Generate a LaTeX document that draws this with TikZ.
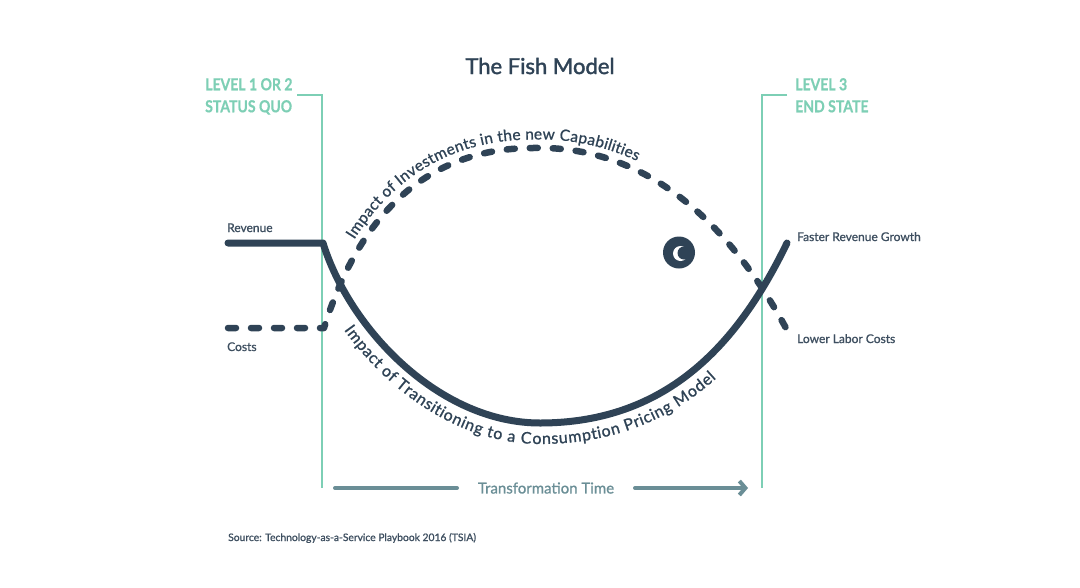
\documentclass[tikz,border=0pt]{standalone}
\usepackage{fontspec}
\setmainfont{Lato}
\newfontfamily\levelfont[FakeStretch=0.85,FakeBold=0.6]{Lato}
\newfontfamily\medfont[FakeBold=1.0]{Lato}
\newfontfamily\semifont[FakeBold=1.8]{Lato}
\usetikzlibrary{decorations.text,arrows.meta}
\definecolor{navy}{HTML}{2F4356}
\definecolor{mint}{HTML}{7DCFB5}
\definecolor{slate}{HTML}{6A8E96}
\definecolor{labelc}{HTML}{3E4F60}
\begin{document}
\begin{tikzpicture}[x=1pt,y=-1pt,
  guide/.style={mint, line width=2.5pt},
  revline/.style={navy, line width=7pt, line join=round, line cap=round},
  costline/.style={navy, line width=6.5pt, line cap=round, line join=round, dash pattern=on 8pt off 15pt},
  lbl/.style={font=\medfont\fontsize{12}{14}\selectfont, text=labelc, inner sep=0pt, anchor=base west},
  level/.style={font=\levelfont\bfseries\fontsize{16.5}{22}\selectfont, text=mint, align=left, inner sep=0pt, anchor=north west},
  timeline/.style={slate, line width=4pt, line cap=round},
]
\useasboundingbox[fill=white] (0,0) rectangle (1080,587);

% title
\node[font=\semifont\fontsize{22}{24}\selectfont, text=navy, inner sep=0pt] (title) at (540,66) {The Fish Model};

% level guides
\coordinate (lgTop) at (322,95);
\coordinate (lgTick) at (297,95);
\coordinate (lgBot) at (322,488);
\coordinate (rgTop) at (762,95);
\coordinate (rgTick) at (787,95);
\coordinate (rgBot) at (762,488);
\draw[guide] (lgTick) -- (lgTop) -- (lgBot);
\draw[guide] (rgTick) -- (rgTop) -- (rgBot);
\node[level] (lv12) at (205,78) {LEVEL 1 OR 2\\STATUS QUO};
\node[level] (lv3) at (795,78) {LEVEL 3\\END STATE};

% costs (dashed)
\coordinate (cStart) at (228,328);
\coordinate (cCorner) at (324,328);
\coordinate (cTop) at (533,148);
\coordinate (cEnd) at (787,330);
\draw[costline] (cStart) -- (cCorner) .. controls (370,180) and (460,148) .. (cTop)
   .. controls (640,145) and (725,215) .. (cEnd);

% revenue (solid)
\coordinate (rStart) at (228,243);
\coordinate (rCorner) at (323,243);
\coordinate (rBot) at (540,423);
\coordinate (rEnd) at (787,243);
\draw[revline] (rStart) -- (rCorner) .. controls (350,330) and (440,423) .. (rBot)
   .. controls (670,423) and (740,340) .. (rEnd);

% texts along curves
\path[decorate, decoration={text along path, raise=8.5pt,
   text align={left indent=92pt},
   text={|\medfont\fontsize{15.5}{15.5}\selectfont\color{navy}|Impact of Investments in the new Capabilities}}]
   (cCorner) .. controls (370,180) and (460,148) .. (cTop)
   .. controls (640,145) and (725,215) .. (cEnd);
\path[decorate, decoration={text along path, raise=-21pt,
   text align={left indent=84pt},
   text={|\medfont\fontsize{16}{16}\selectfont\color{navy}|Impact of Transitioning to a Consumption Pricing Model}}]
   (rCorner) .. controls (350,330) and (440,423) .. (rBot)
   .. controls (670,423) and (740,340) .. (rEnd);

% eye
\fill[navy] (679,252.5) circle (16);
\fill[white] (680.5,253.5) circle (7.5);
\fill[navy] (684,253) circle (6.5);

% labels
\node[lbl] (revenue) at (227,232) {Revenue};
\node[lbl] (costs) at (227,351) {Costs};
\node[lbl] (faster) at (797,241) {Faster Revenue Growth};
\node[lbl] (lower) at (797,343) {Lower Labor Costs};

% transformation time
\node[font=\medfont\fontsize{15}{16}\selectfont, text=slate, inner sep=0pt] (ttime) at (546,488) {Transformation Time};
\coordinate (tA) at (335,488);
\coordinate (tB) at (457,488);
\coordinate (tC) at (635,488);
\coordinate (tD) at (748,488);
\draw[timeline] (tA) -- (tB);
\draw[timeline, -{Straight Barb[length=6pt,width=14pt,line width=4pt]}] (tC) -- (tD);

% source
\node[font=\medfont\fontsize{10.3}{12}\selectfont, text=labelc, inner sep=0pt, anchor=base west] (source) at (228,541) {Source: Technology-as-a-Service Playbook 2016 (TSIA)};
\end{tikzpicture}
\end{document}
